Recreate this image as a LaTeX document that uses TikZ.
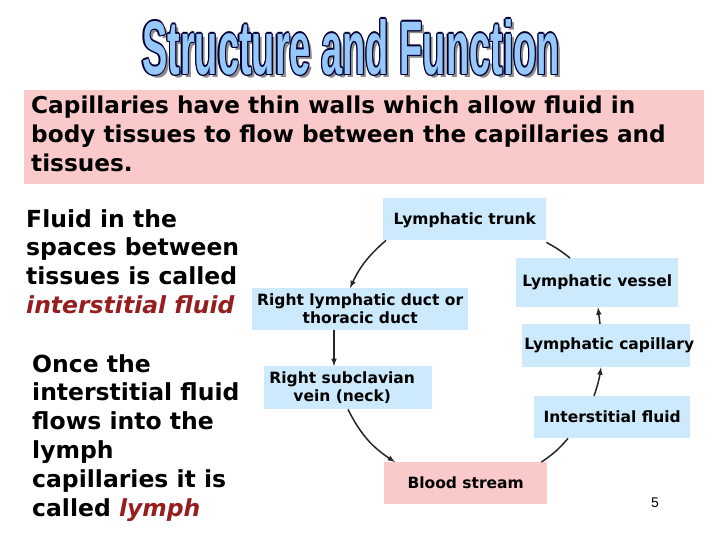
\documentclass[tikz,border=0pt]{standalone}
\usepackage{fontspec}
\setmainfont{DejaVu Sans}
\newfontfamily\titlefont{Liberation Sans}
\begin{document}
\begin{tikzpicture}[x=1pt,y=-1pt,
  bx/.style={fill=boxblue,inner sep=0pt,anchor=north west},
  lbl/.style={align=center,font=\fontsize{15.5}{18}\selectfont\bfseries},
  flow/.style={-latex,line width=1.5pt,black!85},
  plain/.style={line width=1.5pt,black!85},
  ttl/.style={font=\titlefont\fontsize{76}{76}\selectfont\bfseries,xscale=0.5,transform shape,inner sep=0pt}]
\definecolor{boxblue}{RGB}{204,234,252}
\definecolor{pinkbg}{RGB}{250,202,202}
\definecolor{darkred}{RGB}{150,30,30}
\definecolor{titleblue}{RGB}{150,200,250}
\useasboundingbox (0,0) rectangle (720,540);
\fill[white] (0,0) rectangle (720,540);
% title
\node[ttl,text=black!45] (tsh) at (354,50) {Structure and Function};
\foreach \dx/\dy in {-1.2/0,1.2/0,0/-1.2,0/1.2,-0.9/-0.9,0.9/0.9,-0.9/0.9,0.9/-0.9}
  \node[ttl,text=black!80!blue] at (351+\dx,47+\dy) {Structure and Function};
\node[ttl,text=titleblue] (title) at (351,47) {Structure and Function};
% pink intro box
\node[fill=pinkbg,anchor=north west,minimum width=680,minimum height=94,inner sep=0pt] (intro) at (24,90) {};
\node[anchor=north west,align=left,inner sep=0pt,font=\fontsize{23.2}{29}\selectfont\bfseries] (introtxt) at (31,96)
 {Capillaries have thin walls which allow fluid in\\body tissues to flow between the capillaries and\\tissues.};
% left texts
\node[anchor=north west,align=left,inner sep=0pt,font=\fontsize{23.5}{28.8}\selectfont\bfseries] (t1) at (26,209)
 {Fluid in the\\spaces between\\tissues is called\\\textcolor{darkred}{\itshape interstitial fluid}};
\node[anchor=north west,align=left,inner sep=0pt,font=\fontsize{23.5}{28.8}\selectfont\bfseries] (t2) at (32,354)
 {Once the\\interstitial fluid\\flows into the\\lymph\\capillaries it is\\called \textcolor{darkred}{\itshape lymph}};
% boxes
\node[bx,minimum width=163,minimum height=42] (trunk) at (383,198) {};
\node[lbl] at ([yshift=-1]trunk.center) {Lymphatic trunk};
\node[bx,minimum width=162,minimum height=49] (vessel) at (516,258) {};
\node[lbl] at (vessel.center) {Lymphatic vessel};
\node[bx,minimum width=216,minimum height=42] (duct) at (252,288) {};
\node[lbl] at (duct.center) {Right lymphatic duct or\\thoracic duct};
\node[bx,minimum width=168,minimum height=43] (cap) at (522,324) {};
\node[lbl] at ([xshift=3]cap.center) {Lymphatic capillary};
\node[bx,minimum width=168,minimum height=43] (vein) at (264,366) {};
\node[lbl] at ([xshift=-6]vein.center) {Right subclavian\\vein (neck)};
\node[bx,minimum width=156,minimum height=42] (inter) at (534,396) {};
\node[lbl] at (inter.center) {Interstitial fluid};
\node[bx,fill=pinkbg,minimum width=163,minimum height=42] (blood) at (384,462) {};
\node[lbl] at (blood.center) {Blood stream};
% connectors
\coordinate (d1) at ([xshift=82]duct.south west);
\draw[flow] ([xshift=3]trunk.south west) to[bend right=12] ([xshift=98]duct.north west);
\draw[flow] (d1) -- (d1 |- vein.north);
\draw[flow] ([xshift=84]vein.south west) to[bend right=15] ([xshift=11]blood.north west);
\draw[plain] ([xshift=-6]blood.north east) to[bend right=8] ([xshift=34]inter.south west);
\draw[flow] ([xshift=60]inter.north west) to[bend right=5] ([xshift=79]cap.south west);
\draw[flow] ([xshift=78]cap.north west) -- ([xshift=82]vessel.south west);
\draw[plain] ([yshift=-2]trunk.south east) to[bend left=5] ([xshift=54]vessel.north west);
% slide number
\node[font=\fontsize{14}{14}\selectfont\titlefont] (num) at (655,503) {5};
\end{tikzpicture}
\end{document}
